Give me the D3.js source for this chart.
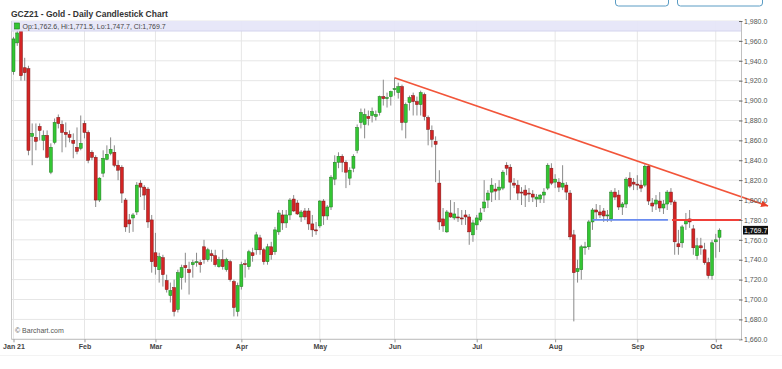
<!DOCTYPE html>
<html><head><meta charset="utf-8">
<script src="https://cdn.jsdelivr.net/npm/d3@7"></script>
<style>body{margin:0;background:#fff}svg{display:block;font-family:"Liberation Sans",Arial,sans-serif}</style>
</head><body><svg id="c" width="782" height="369"></svg>
<script>
const title = "GCZ21 - Gold - Daily Candlestick Chart";
const infoText = "Op:1,762.6, Hi:1,771.5, Lo:1,747.7, Cl:1,769.7";
const monthNames = ["Jan 21","Feb","Mar","Apr","May","Jun","Jul","Aug","Sep","Oct"];
const monthDays = [
 [4,5,6,7,8,11,12,13,14,15,19,20,21,22,25,26,27,28,29],
 [1,2,3,4,5,8,9,10,11,12,16,17,18,19,22,23,24,25,26],
 [1,2,3,4,5,8,9,10,11,12,15,16,17,18,19,22,23,24,25,26,29,30,31],
 [1,5,6,7,8,9,12,13,14,15,16,19,20,21,22,23,26,27,28,29,30],
 [3,4,5,6,7,10,11,12,13,14,17,18,19,20,21,24,25,26,27,28],
 [1,2,3,4,7,8,9,10,11,14,15,16,17,18,21,22,23,24,25,28,29,30],
 [1,2,6,7,8,9,12,13,14,15,16,19,20,21,22,23,26,27,28,29,30],
 [2,3,4,5,6,9,10,11,12,13,16,17,18,19,20,23,24,25,26,27,30,31],
 [1,2,3,7,8,9,10,13,14,15,16,17,20,21,22,23,24,27,28,29,30],
 [1,4]
];
const opens = [
1929,1958,1970,1933,1932,1864,1863,1874,1860,1865,
1828,1858,1883,1876,1868,1866,1860,1853,1852,1877,
1868,1848,1843,1800,1827,1841,1847,1848,1835,1833,
1800,1780,1782,1788,1817,1813,1811,1780,1747,1730,
1742,1719,1704,1712,1690,1722,1734,1730,1735,1737,
1737,1753,1740,1746,1744,1733,1740,1730,1738,1718,
1688,1713,1736,1733,1747,1750,1762,1750,1738,1753,
1748,1768,1785,1777,1785,1801,1797,1783,1789,1789,
1776,1770,1774,1799,1784,1793,1821,1838,1844,1838,
1822,1832,1850,1878,1876,1884,1885,1884,1888,1904,
1902,1904,1911,1908,1914,1878,1898,1905,1899,1896,
1906,1883,1870,1859,1817,1781,1768,1787,1782,1783,
1782,1785,1783,1765,1775,1780,1792,1800,1808,1811,
1810,1812,1835,1833,1817,1815,1808,1810,1807,1806,
1801,1801,1805,1812,1832,1818,1818,1813,1815,1807,
1765,1728,1730,1752,1753,1778,1790,1788,1789,1784,
1781,1808,1805,1793,1796,1822,1818,1816,1815,1815,
1834,1797,1796,1799,1792,1796,1808,1798,1756,1757,
1776,1781,1771,1744,1754,1750,1737,1724,1758,1762.6];
const highs = [
1964,1975,1973,1943,1935,1877,1877,1877,1870,1870,
1857,1882,1886,1880,1878,1870,1867,1873,1885,1880,
1870,1850,1845,1823,1850,1855,1863,1855,1840,1835,
1802,1786,1787,1818,1820,1815,1813,1785,1767,1747,
1745,1725,1717,1720,1730,1735,1747,1738,1740,1747,
1740,1760,1752,1750,1750,1743,1750,1742,1740,1720,
1717,1738,1740,1750,1752,1768,1765,1752,1756,1758,
1773,1790,1790,1790,1802,1805,1800,1790,1792,1792,
1785,1778,1800,1801,1795,1825,1845,1848,1846,1840,
1833,1846,1876,1892,1892,1890,1893,1890,1905,1921,
1908,1910,1923,1918,1916,1898,1905,1908,1904,1910,
1908,1885,1875,1864,1830,1792,1790,1800,1798,1792,
1790,1790,1786,1780,1785,1792,1820,1810,1822,1817,
1820,1830,1838,1836,1822,1820,1813,1815,1812,1810,
1806,1806,1812,1837,1837,1826,1822,1835,1818,1810,
1770,1740,1755,1758,1780,1792,1796,1795,1792,1790,
1810,1812,1810,1798,1823,1828,1822,1825,1820,1836,
1836,1802,1805,1808,1800,1810,1812,1800,1770,1775,
1787,1790,1775,1762,1762,1757,1742,1760,1766,1771.5];
const lows = [
1926,1955,1920,1920,1845,1835,1850,1860,1850,1842,
1826,1856,1872,1848,1853,1858,1842,1846,1850,1862,
1837,1840,1793,1798,1823,1840,1845,1833,1820,1797,
1768,1767,1768,1785,1803,1790,1772,1727,1725,1717,
1713,1707,1697,1683,1687,1710,1717,1705,1722,1733,
1727,1736,1738,1738,1733,1732,1730,1728,1718,1683,
1683,1710,1722,1730,1738,1745,1745,1735,1735,1740,
1745,1765,1770,1772,1780,1788,1785,1778,1780,1770,
1763,1765,1772,1775,1780,1790,1815,1832,1828,1812,
1815,1828,1847,1872,1862,1875,1878,1880,1885,1895,
1893,1895,1905,1902,1870,1862,1890,1885,1885,1885,
1880,1855,1853,1818,1770,1768,1767,1782,1780,1778,
1775,1775,1755,1758,1770,1778,1788,1792,1798,1800,
1800,1810,1825,1800,1812,1800,1795,1793,1798,1798,
1793,1797,1797,1810,1815,1812,1808,1810,1800,1760,
1678,1717,1720,1745,1750,1770,1780,1782,1778,1778,
1778,1800,1790,1785,1792,1812,1810,1810,1808,1813,
1795,1788,1790,1788,1786,1790,1795,1745,1745,1752,
1770,1772,1745,1740,1745,1735,1721,1720,1742,1747.7];
const closes = [
1962,1968,1925,1928,1850,1867,1859,1870,1865,1843,
1853,1878,1877,1868,1866,1863,1857,1849,1857,1868,
1840,1843,1800,1822,1842,1846,1851,1835,1830,1807,
1773,1776,1785,1815,1813,1805,1778,1738,1733,1743,
1725,1710,1709,1688,1727,1732,1732,1727,1737,1738,
1735,1740,1750,1744,1735,1740,1733,1740,1720,1692,
1714,1735,1735,1748,1744,1765,1750,1738,1753,1745,
1770,1787,1777,1785,1800,1789,1786,1788,1783,1776,
1770,1769,1799,1784,1793,1823,1838,1844,1838,1828,
1830,1844,1873,1888,1886,1882,1889,1886,1904,1902,
1903,1909,1912,1914,1878,1896,1903,1899,1896,1908,
1884,1871,1861,1856,1778,1774,1788,1783,1786,1782,
1781,1783,1768,1777,1782,1787,1798,1807,1815,1809,
1813,1828,1832,1818,1815,1807,1807,1805,1806,1803,
1803,1805,1808,1835,1817,1821,1813,1817,1808,1763,
1727,1731,1753,1753,1778,1790,1788,1785,1784,1785,
1808,1803,1793,1796,1821,1814,1816,1815,1812,1834,
1799,1794,1800,1792,1796,1808,1798,1758,1753,1773,
1780,1778,1752,1754,1752,1737,1724,1757,1760,1769.7];
const priceTicks = [1660,1680,1700,1720,1740,1760,1780,1800,1820,1840,1860,1880,1900,1920,1940,1960,1980];
// drawn studies: [index, price]
const trendLine = [[102, 1923], [202, 1794]];
const supportBlue = [[155, 1780], [175.2, 1780]];
const levelRed = [[176.3, 1780], [194.8, 1780]];
const lastPrice = 1769.7;

const dates = [];
monthDays.forEach((days, m) => days.forEach(d => dates.push(new Date(2021, m, d))));
const n = dates.length;
const data = dates.map((d, i) => ({i, date: d, o: opens[i], h: highs[i], l: lows[i], c: closes[i]}));
const monthStart = [];
let acc = 0; monthDays.forEach(days => { monthStart.push(acc); acc += days.length; });

const plotL = 11.5, plotR = 741, plotT = 21, plotB = 339.3;
const x = d3.scaleLinear().domain([0, n - 1]).range([13.5, 719.5]);
const y = d3.scaleLinear().domain([1660, 1980]).range([plotB, plotT]);
const svg = d3.select("#c");

// top-right button remnants
svg.append("rect").attr("x", 615.5).attr("y", -14).attr("width", 53).attr("height", 20).attr("rx", 3)
  .attr("fill", "none").attr("stroke", "#5a9cc4").attr("stroke-width", 1);
svg.append("rect").attr("x", 677.5).attr("y", -14).attr("width", 85).attr("height", 20).attr("rx", 3)
  .attr("fill", "none").attr("stroke", "#5a9cc4").attr("stroke-width", 1);

svg.append("text").attr("x", 11).attr("y", 17).attr("font-size", 8.5).attr("font-weight", "bold")
  .attr("fill", "#333").text(title);

// grid
const g = svg.append("g");
g.selectAll(".hg").data(priceTicks).join("line")
  .attr("x1", plotL).attr("x2", plotR).attr("y1", d => y(d)).attr("y2", d => y(d))
  .attr("stroke", "#e6e6e6").attr("stroke-width", 1);
g.selectAll(".vg").data(monthStart).join("line")
  .attr("x1", d => x(d)).attr("x2", d => x(d)).attr("y1", plotT).attr("y2", plotB)
  .attr("stroke", "#e6e6e6").attr("stroke-width", 1);
g.append("line").attr("x1", plotL).attr("x2", plotL).attr("y1", plotT).attr("y2", plotB).attr("stroke", "#c8c8c8");

// candles
const cg = svg.append("g");
const up = d => d.c >= d.o;
cg.selectAll(".wick").data(data).join("line")
  .attr("x1", d => x(d.i)).attr("x2", d => x(d.i))
  .attr("y1", d => y(d.h)).attr("y2", d => y(d.l))
  .attr("stroke", "#8a8a8a").attr("stroke-width", 1);
cg.selectAll(".body").data(data).join("rect")
  .attr("x", d => x(d.i) - 1.5).attr("width", 3)
  .attr("y", d => y(Math.max(d.o, d.c)))
  .attr("height", d => Math.max(1, Math.abs(y(d.o) - y(d.c))))
  .attr("fill", d => up(d) ? "#33c633" : "#d42424")
  .attr("stroke", d => up(d) ? "#1f7a1f" : "#7a1515").attr("stroke-width", 0.5);

// info band
svg.append("rect").attr("x", plotL).attr("y", plotT).attr("width", plotR - plotL).attr("height", 10)
  .attr("fill", "#e6e6f8").attr("opacity", 0.95);
svg.append("line").attr("x1", plotL).attr("x2", plotR).attr("y1", plotT + 10).attr("y2", plotT + 10)
  .attr("stroke", "#d4d4ee");
svg.append("rect").attr("x", 14.5).attr("y", 23).attr("width", 5).attr("height", 6)
  .attr("fill", "#33c633").attr("stroke", "#1f7a1f").attr("stroke-width", 0.6);
svg.append("text").attr("x", 22.5).attr("y", 29).attr("font-size", 7).attr("fill", "#444").text(infoText);

// studies
const defs = svg.append("defs");
defs.append("marker").attr("id", "arr").attr("markerUnits", "userSpaceOnUse")
  .attr("markerWidth", 8).attr("markerHeight", 8).attr("refX", 7).attr("refY", 4).attr("orient", "auto")
  .append("path").attr("d", "M0,0.5 L7,4 L0,7.5 Z").attr("fill", "#e8402a");
const ln = d3.line().x(d => x(d[0])).y(d => y(d[1]));
svg.append("path").attr("d", ln(trendLine)).attr("stroke", "#f2553a").attr("stroke-width", 1.6)
  .attr("fill", "none").attr("marker-end", "url(#arr)");
svg.append("path").attr("d", ln(supportBlue)).attr("stroke", "#6a8cf0").attr("stroke-width", 1.8).attr("fill", "none");
svg.append("path").attr("d", ln(levelRed)).attr("stroke", "#f0403a").attr("stroke-width", 2).attr("fill", "none");

// axes
const yAxis = d3.axisRight(y).tickValues(priceTicks).tickFormat(d3.format(",.1f")).tickSize(0).tickPadding(3);
const ya = svg.append("g").attr("transform", `translate(${plotR},0)`).call(yAxis);
ya.select(".domain").attr("stroke", "#c0c0c0");
ya.selectAll(".tick text").attr("font-size", 7).attr("fill", "#555").attr("font-family", "Liberation Sans, Arial, sans-serif");
ya.selectAll(".tick").append("line").attr("x1", -2).attr("x2", 1.5).attr("stroke", "#666");

const xAxis = d3.axisBottom(x).tickValues(monthStart).tickFormat((d, k) => monthNames[k]).tickSize(3).tickPadding(2);
const xa = svg.append("g").attr("transform", `translate(0,${plotB})`).call(xAxis);
xa.select(".domain").attr("d", `M${plotL},0H${plotR}`).attr("stroke", "#c0c0c0");
xa.selectAll(".tick line").attr("stroke", "#999");
xa.selectAll(".tick text").attr("font-size", 7).attr("font-weight", "bold").attr("fill", "#444")
  .attr("font-family", "Liberation Sans, Arial, sans-serif");

svg.append("line").attr("x1", 0).attr("x2", 782).attr("y1", 355.5).attr("y2", 355.5).attr("stroke", "#f3f3f3");

// last price tag
svg.append("rect").attr("x", 743).attr("y", y(lastPrice) - 4.3).attr("width", 25).attr("height", 8.6).attr("fill", "#111");
svg.append("text").attr("x", 744).attr("y", y(lastPrice)).attr("dy", "0.35em").attr("font-size", 7)
  .attr("fill", "#fff").text(d3.format(",.1f")(lastPrice));

svg.append("text").attr("x", 15).attr("y", 333).attr("font-size", 7).attr("fill", "#555").text("© Barchart.com");
</script></body></html>
